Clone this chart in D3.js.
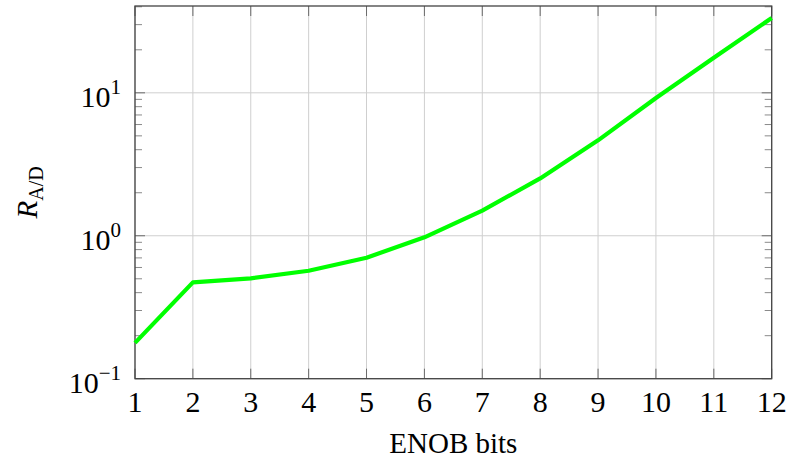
<!DOCTYPE html>
<meta charset="utf-8">
<style>
  body { margin: 0; background: #fff; }
  text { font-family: "Liberation Serif", "Times New Roman", serif; fill: #000; }
</style>
<script src="https://d3js.org/d3.v7.min.js"></script>
<div id="chart"></div>
<script>
// data
var enob = [1, 2, 3, 4, 5, 6, 7, 8, 9, 10, 11, 12];
var ratio = [0.178, 0.472, 0.504, 0.569, 0.702, 0.975, 1.50, 2.52, 4.65, 9.2, 17.6, 33.4];
var xTicks = [1, 2, 3, 4, 5, 6, 7, 8, 9, 10, 11, 12];
var yTicks = [0.1, 1, 10];
var yExp = ["\u22121", "0", "1"];

var W = 789, H = 459;
var margin = {top: 6, right: 17.3, bottom: 80.3, left: 135},
    width = W - margin.left - margin.right,
    height = H - margin.top - margin.bottom;

var svg = d3.select("#chart").append("svg")
    .attr("width", W).attr("height", H);
var g = svg.append("g")
    .attr("transform", "translate(" + margin.left + "," + margin.top + ")");

var x = d3.scaleLinear().domain([1, 12]).range([0, width]);
var y = d3.scaleLog().domain([0.1, 40.5]).range([height, 0]);

// minor ticks (2..9 of each decade) inside the domain
var minor = [];
[0.1, 1, 10].forEach(function(d) {
  for (var k = 2; k <= 9; k++) if (d * k <= 40.5) minor.push(d * k);
});

// grid
g.selectAll(".gx").data(xTicks).enter().append("line")
    .attr("x1", d => x(d)).attr("x2", d => x(d))
    .attr("y1", 0).attr("y2", height)
    .attr("stroke", "#cfcfcf").attr("stroke-width", 1);
g.selectAll(".gy").data(yTicks).enter().append("line")
    .attr("x1", 0).attr("x2", width)
    .attr("y1", d => y(d)).attr("y2", d => y(d))
    .attr("stroke", "#cfcfcf").attr("stroke-width", 1);

// ticks inside on all sides
var tickCol = "#6b6b6b";
xTicks.forEach(function(d) {
  g.append("line").attr("x1", x(d)).attr("x2", x(d)).attr("y1", height).attr("y2", height - 10)
    .attr("stroke", tickCol).attr("stroke-width", 1);
  g.append("line").attr("x1", x(d)).attr("x2", x(d)).attr("y1", 0).attr("y2", 10)
    .attr("stroke", tickCol).attr("stroke-width", 1);
});
yTicks.forEach(function(d) {
  g.append("line").attr("x1", 0).attr("x2", 10).attr("y1", y(d)).attr("y2", y(d))
    .attr("stroke", tickCol).attr("stroke-width", 1);
  g.append("line").attr("x1", width).attr("x2", width - 10).attr("y1", y(d)).attr("y2", y(d))
    .attr("stroke", tickCol).attr("stroke-width", 1);
});
minor.forEach(function(d) {
  g.append("line").attr("x1", 0).attr("x2", 7).attr("y1", y(d)).attr("y2", y(d))
    .attr("stroke", "#8a8a8a").attr("stroke-width", 1);
  g.append("line").attr("x1", width).attr("x2", width - 7).attr("y1", y(d)).attr("y2", y(d))
    .attr("stroke", "#8a8a8a").attr("stroke-width", 1);
});

// frame
g.append("rect").attr("x", 0).attr("y", 0).attr("width", width).attr("height", height)
    .attr("fill", "none").attr("stroke", "#444").attr("stroke-width", 1.3);

// the curve
var line = d3.line().x((d, i) => x(enob[i])).y(d => y(d));
g.append("path").datum(ratio)
    .attr("d", line)
    .attr("fill", "none")
    .attr("stroke", "#00ff00")
    .attr("stroke-width", 4.2)
    .attr("stroke-linejoin", "round");

// x tick labels
g.selectAll(".xl").data(xTicks).enter().append("text")
    .attr("x", d => x(d)).attr("y", height + 33)
    .attr("text-anchor", "middle")
    .style("font-size", "30px")
    .text(d => d);

// y tick labels 10^n
yTicks.forEach(function(d, i) {
  var t = g.append("text")
      .attr("x", -14).attr("y", y(d) + 14)
      .attr("text-anchor", "end")
      .style("font-size", "30px");
  t.append("tspan").text("10");
  t.append("tspan").attr("dy", -13).style("font-size", "21px").text(yExp[i]);
});

// axis labels
svg.append("text")
    .attr("x", margin.left + width / 2).attr("y", 453)
    .attr("text-anchor", "middle")
    .style("font-size", "29px")
    .text("ENOB bits");

var yl = svg.append("text")
    .attr("transform", "translate(37," + (margin.top + height / 2) + ") rotate(-90)")
    .attr("text-anchor", "middle")
    .style("font-size", "29px");
yl.append("tspan").style("font-style", "italic").text("R");
yl.append("tspan").attr("dy", 6).style("font-size", "20px").text("A/D");
</script>
